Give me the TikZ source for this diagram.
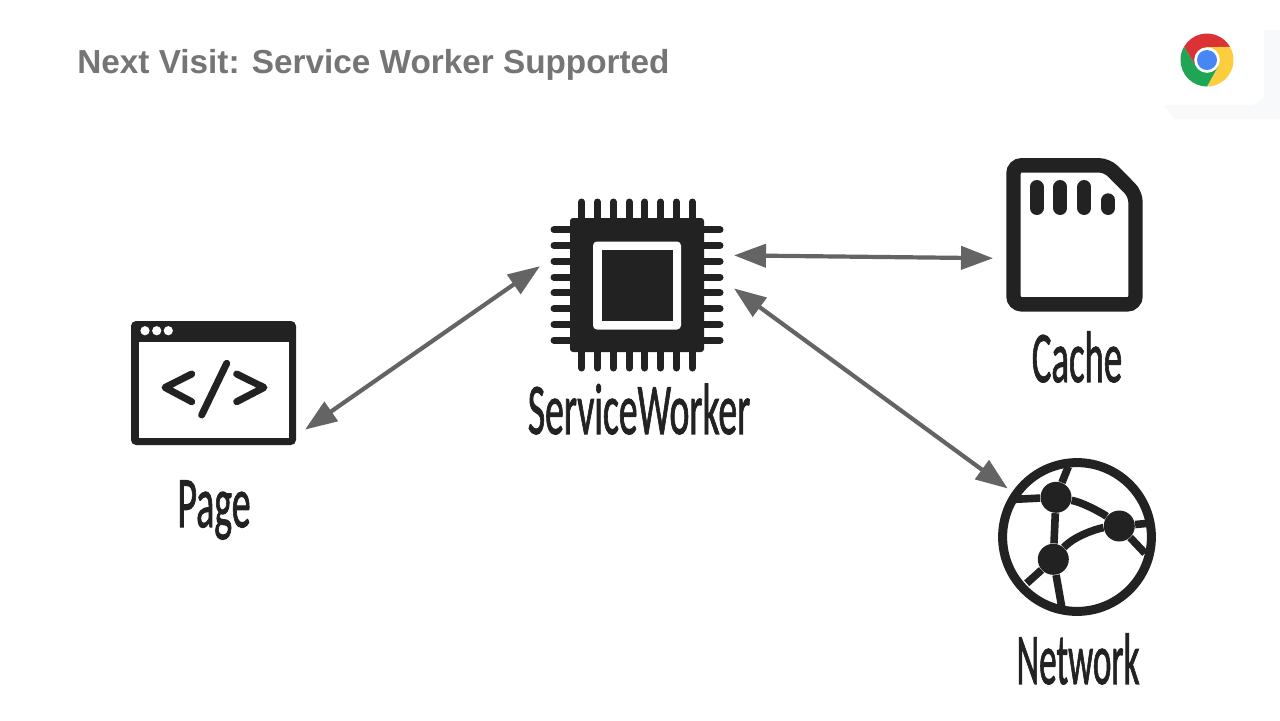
\documentclass[tikz,border=0pt]{standalone}
\usepackage{xcolor}
\usepackage{fontspec}
\usepackage{tikz}
\usetikzlibrary{arrows.meta, positioning, calc}
\setmainfont{Liberation Sans}
\newfontfamily\handfont[FakeBold=1.6]{Carlito}
\definecolor{myink}{RGB}{34,34,34}
\definecolor{mylink}{RGB}{100,100,100}
\definecolor{mytitle}{RGB}{117,117,117}
\definecolor{myband}{RGB}{248,249,251}
\definecolor{chromered}{RGB}{219,50,54}
\definecolor{chromegreen}{RGB}{30,165,85}
\definecolor{chromeyellow}{RGB}{252,205,60}
\definecolor{chromeblue}{RGB}{70,135,245}
\tikzset{
  iconbox/.style={rectangle, inner sep=0pt},
  iconround/.style={circle, inner sep=0pt},
  handlabel/.style={font=\handfont\fontsize{25}{25}\selectfont, color=myink, inner sep=0pt, xscale=0.7, yscale=1.45, transform shape},
  link/.style={{Triangle[length=16pt,width=11.5pt]}-{Triangle[length=16pt,width=11.5pt]}, line width=2.1pt, color=mylink},
  pin/.style={line width=3.5pt, line cap=round, color=myink},
  spoke/.style={line width=3.8pt, color=myink},
  hub/.style={circle, fill=myink, inner sep=0pt, minimum size=15.5pt}
}
\begin{document}
\begin{tikzpicture}[x=0.5pt, y=-0.5pt]
  \useasboundingbox[fill=white] (0,0) rectangle (1280,720);
  \fill[myband] (1264,30) -- (1264,97) -- (1253,105) -- (1163,105) -- (1175,119) -- (1280,119) -- (1280,30) -- cycle;

  \node[anchor=west, inner sep=0pt, text=mytitle, font=\bfseries\fontsize{16.65}{17}\selectfont] (title) at (77,65) {Next Visit: Service Worker Supported};

  % places of the icons
  \node[iconbox, minimum width=82.5pt, minimum height=62pt, outer sep=4.5pt] (page) at (213.5,383) {};
  \node[iconbox, minimum size=87pt, outer sep=5pt] (chip) at (637,285) {};
  \node[iconbox, minimum width=68pt, minimum height=77pt, outer sep=6.5pt] (cache) at (1074,235) {};
  \node[iconround, minimum size=79pt, outer sep=2.8pt] (network) at (1077,537) {};
  \node[iconround, minimum size=26.5pt] (chrome) at (1207,60) {};

  % page
  \fill[myink, rounded corners=2.5pt] (131,321) rectangle (296,445);
  \fill[white] (138.5,341.5) rectangle (288.5,437.5);
  \foreach \x in {145,156.7,168.3}
    \fill[white] (\x,330.7) circle (2.3pt);
  \draw[pin, line join=round] (191.7,374) -- (165,387.5) -- (191.7,401.7);
  \draw[pin, line join=round] (236.7,374) -- (264,387.5) -- (236.7,401.7);
  \draw[pin] (226.7,363.3) -- (201.7,415);

  % chip
  \foreach \d in {-55.3,-39.5,-23.7,-7.9,7.9,23.7,39.5,55.3} {
    \draw[pin] (554,285+\d) -- (720,285+\d);
    \draw[pin] (637+\d,202) -- (637+\d,368);
  }
  \fill[myink, rounded corners=1.5pt] (570,218) rectangle (704,352);
  \fill[white, rounded corners=2pt] (593,241.5) rectangle (681,329.5);
  \fill[myink] (601.5,250) rectangle (672.5,321);

  % cache
  \draw[myink, line width=7.2pt, rounded corners=4pt] (1013.5,165.3) -- (1107,165.3) -- (1135.5,194) -- (1135.5,304.3) -- (1013.5,304.3) -- cycle;
  \foreach \x in {1036.7,1060.3,1084.3}
    \draw[pin, line width=7pt] (\x,187) -- (\x,208);
  \draw[pin, line width=7pt] (1108.3,200.3) -- (1108.3,208);

  % network
  \node[hub] (huba) at (1056,497.3) {};
  \node[hub] (hubb) at (1119.3,526) {};
  \node[hub] (hubc) at (1053.3,559.3) {};
  \draw[spoke] (huba) -- (1068.3,466.7);
  \draw[spoke] (huba) -- (1015,499.3);
  \draw[spoke] (huba) -- (hubc);
  \draw[spoke] (huba) .. controls (1085,503) and (1105,515) .. (hubb);
  \draw[spoke] (hubc) .. controls (1075,535) and (1100,528) .. (hubb);
  \draw[spoke] (hubb) -- (1148,523.3);
  \draw[spoke] (hubb) -- (1145,553.3);
  \draw[spoke] (hubc) -- (1026.7,583.3);
  \draw[spoke] (hubc) -- (1061.7,606.7);
  \draw[myink, line width=4.5pt] (network.center) circle (37.2pt);

  % chrome logo
  \begin{scope}[shift={(chrome.center)}, x=1pt, y=1pt]
    \foreach \r/\c in {0/chromered, 120/chromeyellow, 240/chromegreen}
      \fill[\c, rotate=-\r] (150:13.25) arc (150:30:13.25) -- (0,6.4) -- (0,0) -- (210:6.4) -- cycle;
    \fill[white] (0,0) circle (6.4);
    \fill[chromeblue] (0,0) circle (5);
  \end{scope}

  % labels
  \node[handlabel, xscale=1.08] (pagelabel) at (214,510) {Page};
  \node[handlabel, xscale=1.075] (chiplabel) at (639,409) {ServiceWorker};
  \node[handlabel, xscale=1.05] (cachelabel) at (1077,357) {Cache};
  \node[handlabel] (networklabel) at (1078,659) {Network};

  % connectors
  \draw[link] (page.-27) -- (chip.169);
  \draw[link] (chip.17) -- (cache.196);
  \draw[link] (chip.-2) -- (network.145);
\end{tikzpicture}
\end{document}
